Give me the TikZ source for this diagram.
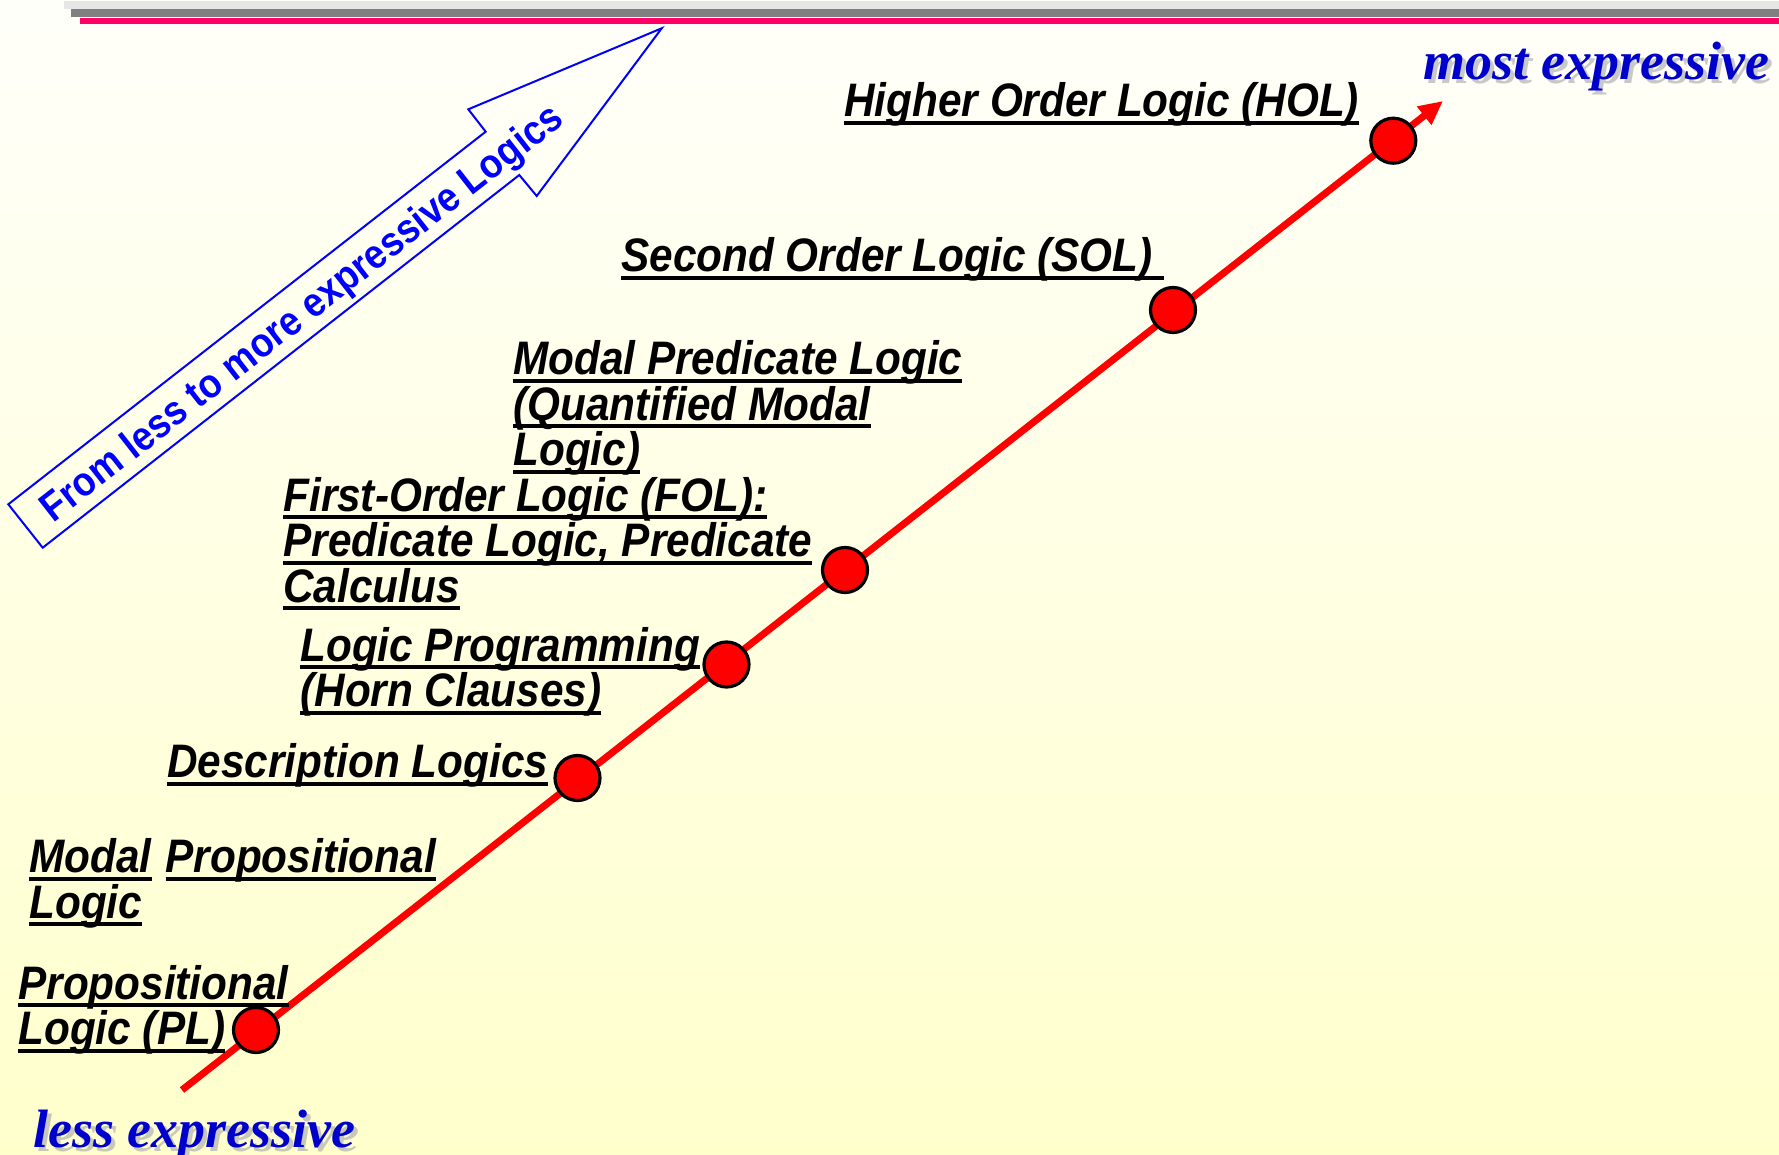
\documentclass[tikz,border=0pt]{standalone}
\usepackage{fontspec}
\usepackage{tikz}
\usetikzlibrary{arrows.meta}
\setmainfont{Liberation Sans}
\newfontfamily\lgsans[FakeStretch=0.9]{Liberation Sans}
\newfontfamily\lgserif{Liberation Serif}
\newsavebox{\lgulbox}
\newcommand{\lgul}[1]{\sbox{\lgulbox}{#1}%
  \rlap{\vrule height -2pt depth 4pt width \wd\lgulbox}\usebox{\lgulbox}}
\definecolor{lgRed}{HTML}{FF0000}
\definecolor{lgBlue}{HTML}{0000FF}
\definecolor{lgNavy}{HTML}{0000CC}
\definecolor{lgPink}{HTML}{FF0066}
\definecolor{lgGrey}{HTML}{808080}
\definecolor{lgPale}{HTML}{E6E6E6}
\definecolor{lgTop}{HTML}{FFFFFA}
\definecolor{lgMid}{HTML}{FFFFE4}
\definecolor{lgBottom}{HTML}{FFFFCC}
\tikzset{
  lg diagram/.style={x=0.5pt, y=-0.5pt, line join=miter},
  lg label/.style={font=\lgsans\fontsize{23.5}{22.75}\selectfont\bfseries\itshape,
    text=black, align=left, anchor=base west, inner sep=0pt},
  lg dot/.style={circle, draw=black, fill=lgRed, line width=1.6pt,
    minimum size=22.5pt, inner sep=0pt},
  lg scale/.style={draw=lgRed, line width=3.5pt,
    -{Triangle[length=12pt,width=11pt]}},
  lg end/.style={font=\lgserif\fontsize{27}{30}\selectfont\bfseries\itshape,
    text=lgNavy, anchor=base west, inner sep=0pt},
  lg shadow/.style={lg end, text=black!30, opacity=0.7},
  lg banner/.style={draw=lgBlue, line width=1pt},
  lg banner text/.style={font=\lgsans\fontsize{20.5}{24}\selectfont\bfseries,
    text=lgBlue, rotate=38, inner sep=0pt}
}

\begin{document}
\begin{tikzpicture}[lg diagram]
\useasboundingbox (0,0) rectangle (1779,1155);
\shade[top color=lgTop, middle color=lgMid, bottom color=lgBottom] (0,0) rectangle (1779,1155);
% title rules
\fill[lgPale] (64,1) rectangle (1779,9);
\fill[lgGrey] (71,9) rectangle (1779,17);
\fill[lgPink] (80,18) rectangle (1779,24);
% banner arrow
\draw[lg banner] (8.3,504.3) -- (485.7,131.7) -- (468.3,109.3) -- (661.7,28.3)
  -- (536.7,196) -- (519.3,175) -- (42.7,547.7) -- cycle;
\node[lg banner text] (banner) at (303,315) {From less to more expressive Logics};
% expressiveness scale
\coordinate (low) at (182,1090);
\coordinate (high) at (1443,101);
\draw[lg scale] (low) -- (high);
\node[lg dot] (pl) at (256,1030) {};
\node[lg dot] (dl) at (577.5,778) {};
\node[lg dot] (lp) at (726.5,664.5) {};
\node[lg dot] (fol) at (845,570) {};
\node[lg dot] (sol) at (1173,310) {};
\node[lg dot] (hol) at (1393.3,140.7) {};
% logics (anchored at the baseline of the last line)
\node[lg label] (hol lbl) at (844,117) {\lgul{Higher Order Logic (HOL)}};
\node[lg label] (sol lbl) at (621,272) {\lgul{Second Order Logic (SOL)\ }};
\node[lg label] (mpl lbl) at (513,466) {\lgul{Modal Predicate Logic}\\\lgul{(Quantified Modal}\\\lgul{Logic)}};
\node[lg label] (fol lbl) at (283,602) {\lgul{First-Order Logic (FOL):}\\\lgul{Predicate Logic, Predicate}\\\lgul{Calculus}};
\node[lg label] (lp lbl) at (300,706.5) {\lgul{Logic Programming}\\\lgul{(Horn Clauses)}};
\node[lg label] (dl lbl) at (167,777.5) {\lgul{Description Logics}};
\node[lg label] (mprop lbl) at (29,918) {\lgul{Modal}\hspace{7pt}\lgul{Propositional}\\\lgul{Logic}};
\node[lg label] (pl lbl) at (18,1044.5) {\lgul{Propositional}\\\lgul{Logic (PL)}};
% end labels
\node[lg shadow] (most shadow) at (1427,84) {most expressive};
\node[lg end] (most) at (1423,80) {most expressive};
\node[lg shadow] (less shadow) at (37,1151) {less expressive};
\node[lg end] (less) at (33,1147) {less expressive};
\end{tikzpicture}
\end{document}
